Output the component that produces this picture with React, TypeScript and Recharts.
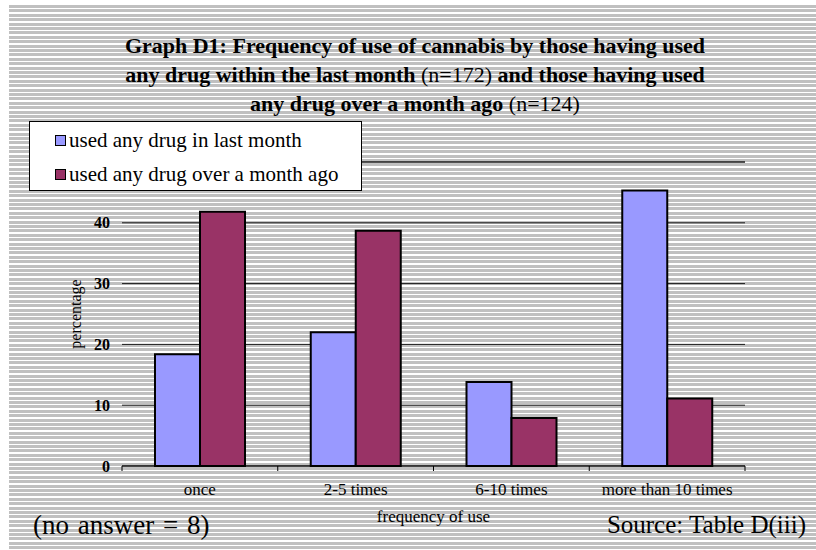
import { BarChart, Bar, XAxis, YAxis, CartesianGrid, Legend, ReferenceLine } from 'recharts';

const categories = ['once', '2-5 times', '6-10 times', 'more than 10 times'];
const lastMonth = [18.4, 22.0, 13.8, 45.3];
const overMonthAgo = [41.8, 38.7, 7.9, 11.1];
const yTicks = [0, 10, 20, 30, 40];
const yMax = 50;

const seriesNames = {
  lastMonth: 'used any drug in last month',
  overMonthAgo: 'used any drug over a month ago',
};
const seriesColors: Record<string, string> = {
  lastMonth: '#9999FF',
  overMonthAgo: '#993366',
};

const data = categories.map((name, i) => ({
  name,
  lastMonth: lastMonth[i],
  overMonthAgo: overMonthAgo[i],
}));

const SERIF = '"Liberation Serif", "Times New Roman", serif';

// category label plus the tick marks that sit on the band edges
function CategoryTick(props: any) {
  const { x, y, payload, index, visibleTicksCount, width } = props;
  const half = payload.offset || width / visibleTicksCount / 2;
  return (
    <g>
      <line x1={x - half} y1={y} x2={x - half} y2={y + 5} stroke="#000" strokeWidth={1} />
      {index === visibleTicksCount - 1 && (
        <line x1={x + half} y1={y} x2={x + half} y2={y + 5} stroke="#000" strokeWidth={1} />
      )}
      <text x={x} y={y + 29} textAnchor="middle" fontSize={17} fontFamily={SERIF} fill="#000">
        {payload.value}
      </text>
    </g>
  );
}

function LegendBox({ payload }: any) {
  return (
    <div
      style={{
        width: 331,
        height: 67,
        background: '#fff',
        border: '1px solid #000',
        boxSizing: 'content-box',
        paddingTop: 1,
      }}
    >
      {(payload || []).map((item: any) => (
        <div
          key={item.dataKey}
          style={{ display: 'flex', alignItems: 'center', height: 34, paddingLeft: 25 }}
        >
          <span
            style={{
              width: 9,
              height: 9,
              background: seriesColors[item.dataKey],
              border: '1.5px solid #000',
              marginRight: 3,
            }}
          />
          <span style={{ fontFamily: SERIF, fontSize: 21, color: '#000' }}>{item.value}</span>
        </div>
      ))}
    </div>
  );
}

export default function App() {
  return (
    <div style={{ position: 'absolute', left: 0, top: 0, width: 816, height: 550, background: '#fff' }}>
      <div
        style={{
          position: 'absolute',
          left: 9,
          top: 5,
          right: 0,
          bottom: 0,
          background:
            'repeating-linear-gradient(to bottom, #c0c0c0 0px, #c0c0c0 3px, #ffffff 3px, #ffffff 4.4px)',
        }}
      />
      <div
        style={{
          position: 'absolute',
          left: 0,
          top: 31,
          width: 830,
          textAlign: 'center',
          fontFamily: SERIF,
          fontSize: 22,
          lineHeight: '29px',
          fontWeight: 'bold',
          color: '#000',
        }}
      >
        <div>Graph D1: Frequency of use of cannabis by those having used</div>
        <div>
          any drug within the last month <span style={{ fontWeight: 'normal' }}>(n=172)</span> and those
          having used
        </div>
        <div>
          any drug over a month ago <span style={{ fontWeight: 'normal' }}>(n=124)</span>
        </div>
      </div>
      <div style={{ position: 'absolute', left: 0, top: 0 }}>
        <BarChart
          width={816}
          height={550}
          data={data}
          margin={{ top: 162, right: 71, bottom: 0, left: 62 }}
          barGap={0}
          barSize={45}
        >
          <CartesianGrid vertical={false} stroke="#1a1a1a" strokeWidth={1} />
          {/* top gridline; its label sits under the legend box */}
          <ReferenceLine y={yMax} stroke="#1a1a1a" strokeWidth={1} />
          <XAxis
            dataKey="name"
            height={84}
            axisLine={{ stroke: '#000', strokeWidth: 1 }}
            tickLine={false}
            tickSize={0}
            tickMargin={0}
            interval={0}
            tick={<CategoryTick />}
            label={(p: any) => {
              const vb = p.viewBox;
              return (
                <text
                  x={vb.x + vb.width / 2}
                  y={vb.y + 56}
                  textAnchor="middle"
                  fontSize={17}
                  fontFamily={SERIF}
                  fill="#000"
                >
                  frequency of use
                </text>
              );
            }}
          />
          <YAxis
            width={60}
            domain={[0, yMax]}
            ticks={yTicks}
            interval={0}
            axisLine={false}
            tickLine={false}
            tickSize={0}
            tickMargin={12}
            tick={{ fontSize: 16, fontWeight: 'bold', fill: '#000', fontFamily: SERIF }}
            label={(p: any) => {
              const vb = p.viewBox;
              const cx = vb.x + 13;
              const cy = vb.y + vb.height / 2;
              return (
                <text
                  x={cx}
                  y={cy}
                  transform={`rotate(-90, ${cx}, ${cy})`}
                  textAnchor="middle"
                  dominantBaseline="central"
                  fontSize={16}
                  fontFamily={SERIF}
                  fill="#000"
                >
                  percentage
                </text>
              );
            }}
          />
          <Legend
            layout="vertical"
            align="center"
            verticalAlign="middle"
            wrapperStyle={{ left: 29, top: 121, width: 'auto' }}
            content={<LegendBox />}
          />
          <Bar
            dataKey="lastMonth"
            name={seriesNames.lastMonth}
            fill={seriesColors.lastMonth}
            stroke="#000"
            strokeWidth={2}
            isAnimationActive={false}
          />
          <Bar
            dataKey="overMonthAgo"
            name={seriesNames.overMonthAgo}
            fill={seriesColors.overMonthAgo}
            stroke="#000"
            strokeWidth={2}
            isAnimationActive={false}
          />
        </BarChart>
      </div>
      <div
        style={{
          position: 'absolute',
          left: 33,
          top: 510,
          fontFamily: SERIF,
          fontSize: 27,
          lineHeight: '30px',
          wordSpacing: 2,
          color: '#000',
        }}
      >
        (no answer = 8)
      </div>
      <div
        style={{
          position: 'absolute',
          right: 10,
          top: 510,
          fontFamily: SERIF,
          fontSize: 25,
          lineHeight: '30px',
          color: '#000',
        }}
      >
        Source: Table D(iii)
      </div>
    </div>
  );
}
